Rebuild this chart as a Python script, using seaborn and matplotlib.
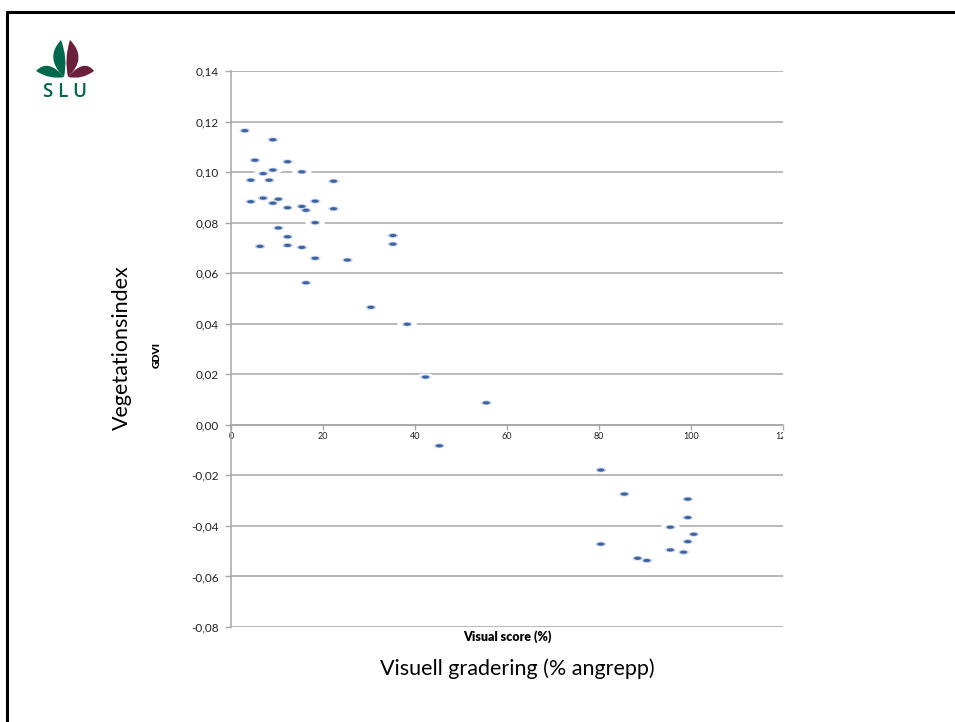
import matplotlib
matplotlib.use('Agg')
import matplotlib.pyplot as plt
import seaborn as sns
import numpy as np
import pandas as pd
from matplotlib.path import Path
from matplotlib.patches import PathPatch
from matplotlib.lines import Line2D

# Data (visual score %, GDVI)
visual_score = [3.0, 9.1, 5.2, 12.3, 9.1, 15.4, 7.0, 4.3, 8.3, 22.3,
                4.3, 7.0, 10.3, 9.1, 12.3, 15.4, 16.3, 18.3, 22.3, 18.3,
                10.3, 12.3, 6.3, 12.3, 15.4, 18.3, 25.3, 16.3, 35.2, 35.2,
                30.4, 38.3, 42.3, 55.5, 45.3,
                80.4, 85.5, 99.3, 99.3, 95.5, 100.6, 99.3, 80.4, 95.5, 98.4,
                88.4, 90.4]
gdvi = [0.1164, 0.1128, 0.1047, 0.1041, 0.1008, 0.1001, 0.0994, 0.0968, 0.0968, 0.0964,
        0.0883, 0.0897, 0.0893, 0.0877, 0.0859, 0.0864, 0.0849, 0.0885, 0.0855, 0.0800,
        0.0779, 0.0744, 0.0706, 0.0710, 0.0702, 0.0659, 0.0652, 0.0562, 0.0749, 0.0715,
        0.0465, 0.0398, 0.0189, 0.0087, -0.0083,
        -0.0179, -0.0274, -0.0294, -0.0367, -0.0405, -0.0433, -0.0462, -0.0472, -0.0495, -0.0504,
        -0.0528, -0.0537]
x_ticks = [0, 20, 40, 60, 80, 100, 120]
y_ticks = [-0.08, -0.06, -0.04, -0.02, 0.00, 0.02, 0.04, 0.06, 0.08, 0.10, 0.12, 0.14]

df = pd.DataFrame({'score': visual_score, 'gdvi': gdvi})

W, H = 955, 722
sns.set_style('white')
plt.rcParams['font.family'] = ['Lato', 'DejaVu Sans']

fig = plt.figure(figsize=(W / 100, H / 100), dpi=100)


def px(x, y):
    # pixel coords (top-left origin) -> figure fraction
    return x / W, 1 - y / H


ax = fig.add_axes([231 / W, 1 - 627 / H, (783 - 231) / W, (627 - 71) / H])

# elliptic marker
t = np.linspace(0, 2 * np.pi, 40)
ellipse = Path(np.column_stack([np.cos(t), 0.45 * np.sin(t)]), closed=True)
halo = Path(np.column_stack([np.cos(t), 0.35 * np.sin(t)]), closed=True)

sns.scatterplot(data=df, x='score', y='gdvi', marker=halo, s=200, color='white',
                edgecolor='none', linewidth=0, ax=ax, zorder=3)
sns.scatterplot(data=df, x='score', y='gdvi', marker=ellipse, s=60, color='#c9d5e8',
                edgecolor='none', linewidth=0, ax=ax, zorder=4)
sns.scatterplot(data=df, x='score', y='gdvi', marker=ellipse, s=26, color='#3d62a0',
                edgecolor='none', linewidth=0, ax=ax, zorder=5)

ax.set_xlim(0, 120)
ax.set_ylim(-0.08, 0.14)
ax.set_yticks(y_ticks)
ax.set_yticklabels([f'{v:.2f}'.replace('.', ',') for v in y_ticks])
ax.set_xticks(x_ticks)
ax.set_xticklabels([str(v) for v in x_ticks])
ax.yaxis.grid(True, color='#a6a6a6', lw=1.1, zorder=1)
ax.xaxis.grid(False)
ax.set_axisbelow(True)

for s in ['top', 'right']:
    ax.spines[s].set_visible(False)
ax.spines['left'].set_color('#a6a6a6')
ax.spines['left'].set_linewidth(1.1)
ax.spines['bottom'].set_position(('data', 0))
ax.spines['bottom'].set_color('#a6a6a6')
ax.spines['bottom'].set_linewidth(1.1)

ax.tick_params(axis='y', direction='out', length=4, width=1, color='#a6a6a6',
               labelsize=8.5, labelcolor='#222222', pad=5, left=True)
ax.tick_params(axis='x', direction='out', length=3.5, width=1, color='#a6a6a6',
               labelsize=6.5, labelcolor='#222222', pad=2, bottom=True)
# the last x label is cut at the plot edge, as in the reference
last = ax.get_xticklabels()[-1]
last.set_clip_box(ax.bbox)
last.set_clip_on(True)
ax.set_xlabel('')
ax.set_ylabel('')

# axis titles
fig.text(*px(157, 355), 'GDVI', rotation=90, ha='center', va='center',
         fontsize=7.5, fontweight='heavy', color='black')
fig.text(*px(507, 637), 'Visual score (%)', ha='center', va='center',
         fontsize=9, fontweight='heavy', color='black')
fig.text(*px(122, 348), 'Vegetationsindex', rotation=90, ha='center', va='center',
         fontsize=15.5, color='black')
fig.text(*px(517, 669), 'Visuell gradering (% angrepp)', ha='center', va='center',
         fontsize=15.5, color='black')

# slide frame (top and left edges visible)
fig.add_artist(Line2D([7 / W, 1], [1 - 12 / H, 1 - 12 / H], color='black', lw=2.2,
                      transform=fig.transFigure))
fig.add_artist(Line2D([7 / W, 7 / W], [0, 1 - 12 / H], color='black', lw=2.2,
                      transform=fig.transFigure))


# SLU logo
def leaf(points, color):
    verts = [px(*p) for p in points]
    codes = [Path.MOVETO, Path.CURVE3, Path.CURVE3, Path.CURVE3, Path.CURVE3]
    fig.add_artist(PathPatch(Path(verts, codes), facecolor=color, edgecolor='none',
                             transform=fig.transFigure))


green, maroon = '#00684c', '#6c1f3a'
leaf([(64, 77), (44, 58), (61, 40), (68, 58), (64, 77)], green)
leaf([(64, 77), (48, 58), (36, 71), (50, 80), (64, 77)], green)
leaf([(68, 77), (88, 58), (70, 40), (64, 58), (68, 77)], maroon)
leaf([(68, 77), (84, 58), (94, 71), (82, 80), (68, 77)], maroon)
fig.text(*px(65, 92), 'S L U', ha='center', va='center', fontsize=13.5,
         color=green, fontweight='semibold', family=['Open Sans', 'DejaVu Sans'])

fig.savefig('out.png', dpi=100)
